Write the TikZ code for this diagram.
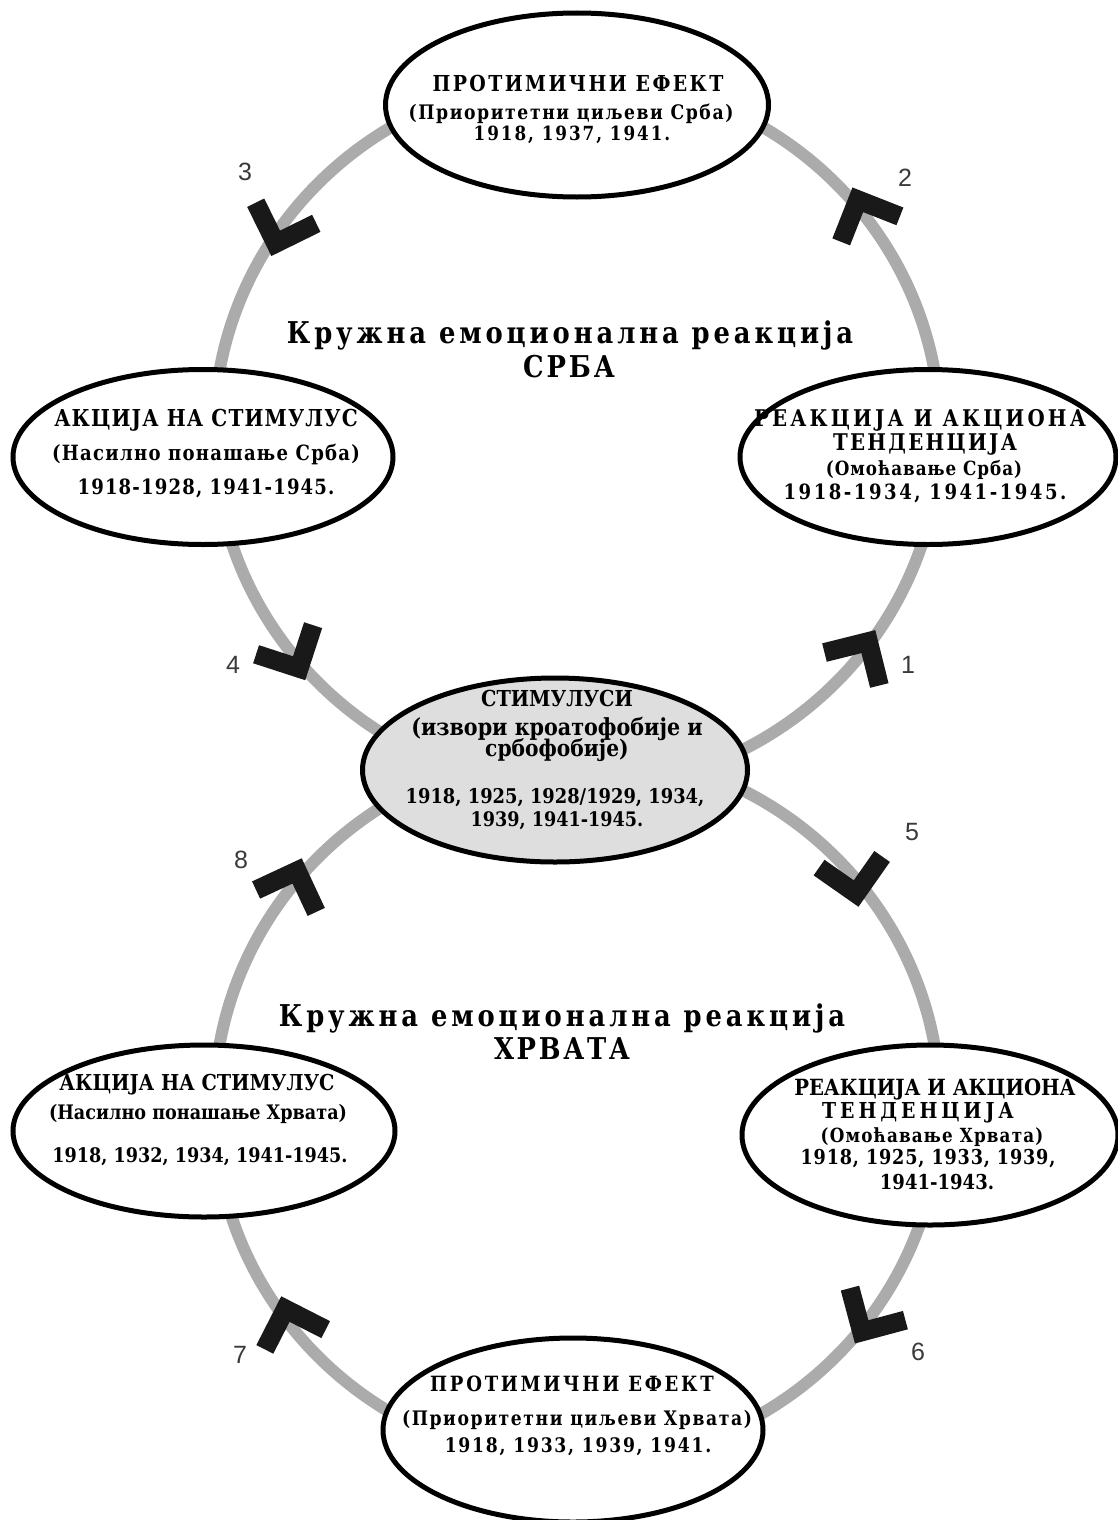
\documentclass[tikz,border=0pt]{standalone}
\usepackage{fontspec}
\setmainfont[FakeStretch=0.88]{DejaVu Serif}
\newfontfamily\spacedfont[FakeStretch=0.86]{DejaVu Serif}
\newfontfamily\numfont{Liberation Sans}
\usetikzlibrary{shapes.geometric,calc}
\definecolor{ringgray}{HTML}{ABABAB}
\definecolor{centerfill}{HTML}{DEDEDE}
\definecolor{numgray}{HTML}{3A3A3A}
\newcommand\chevron[4]{%
  \path (#1) ++(#2:363 and 356) coordinate (#4);
  \begin{scope}[shift={(#4)}, rotate=-#3]
    \draw[chev] (-14,32) -- (18,0) -- (-14,-32);
  \end{scope}}
\begin{document}
\begin{tikzpicture}[x=1pt,y=-1pt,
  ell/.style={draw=black, line width=5pt, ellipse, fill=white, inner sep=0pt},
  ring/.style={draw=ringgray, line width=12pt},
  chev/.style={line width=19pt, draw=black!90, miter limit=10},
  sline/.style 2 args={anchor=base, inner sep=0pt, font=\spacedfont\bfseries\fontsize{#1}{#1}\selectfont\addfontfeature{LetterSpace=#2}},
  uline/.style={anchor=base, inner sep=0pt, font=\bfseries\fontsize{#1}{#1}\selectfont},
  num/.style={font=\numfont\fontsize{25}{25}\selectfont, text=numgray, inner sep=0pt}
]
\fill[white] (0,0) rectangle (1117,1520);
\useasboundingbox (0,0) rectangle (1117,1520);

% rings
\coordinate (c1) at (577,433);
\coordinate (c2) at (577,1107);
\draw[ring] (c1) ellipse[x radius=363, y radius=356];
\draw[ring] (c2) ellipse[x radius=363, y radius=356];

% chevrons
\chevron{c1}{39}{-59}{a1}
\chevron{c1}{-37.5}{-113.5}{a2}
\chevron{c1}{-144.5}{108.8}{a3}
\chevron{c1}{142}{63}{a4}
\chevron{c2}{-40.5}{80}{a5}
\chevron{c2}{36}{120}{a6}
\chevron{c2}{142}{-108}{a7}
\chevron{c2}{-142}{-70}{a8}

% numbers
\node[num] (n1) at (908,665) {1};
\node[num] (n2) at (905,178) {2};
\node[num] (n3) at (245,172) {3};
\node[num] (n4) at (233,665) {4};
\node[num] (n5) at (912,832) {5};
\node[num] (n6) at (918,1352) {6};
\node[num] (n7) at (240,1355) {7};
\node[num] (n8) at (241,860) {8};

% ellipses
\node[ell, minimum width=383pt, minimum height=184pt] (etop) at (577,105) {};
\node[ell, minimum width=380pt, minimum height=175pt] (el1) at (203,457) {};
\node[ell, minimum width=376pt, minimum height=175pt] (er1) at (928,457) {};
\node[ell, minimum width=385pt, minimum height=184pt, fill=centerfill] (ec) at (555,770) {};
\node[ell, minimum width=382pt, minimum height=172pt] (el2) at (204,1131) {};
\node[ell, minimum width=376pt, minimum height=180pt] (er2) at (930,1135) {};
\node[ell, minimum width=380pt, minimum height=184pt] (eb) at (573,1430) {};

% titles
\node[sline={30}{13}] (t1a) at (570,343) {Кружна емоционална реакција};
\node[sline={30}{10}] (t1b) at (569,377) {СРБА};
\node[sline={30}{13}] (t2a) at (562,1026) {Кружна емоционална реакција};
\node[sline={30}{9}] (t2b) at (562,1059) {ХРВАТА};

% top
\node[sline={22}{11}] (ta) at (578,91) {ПРОТИМИЧНИ ЕФЕКТ};
\node[sline={20}{8}] (tb) at (571,119) {(Приоритетни циљеви Срба)};
\node[sline={19.5}{10}] (tc) at (572,140) {1918, 1937, 1941.};

% left 1
\node[sline={23.3}{5}] (l1a) at (206,426) {АКЦИЈА НА СТИМУЛУС};
\node[sline={21}{6}] (l1b) at (206,460) {(Насилно понашање Срба)};
\node[sline={21}{5.5}] (l1c) at (206,494) {1918-1928, 1941-1945.};

% right 1
\node[sline={23}{14}] (r1a) at (920,426) {РЕАКЦИЈА И АКЦИОНА};
\node[sline={23}{10}] (r1b) at (925,450) {ТЕНДЕНЦИЈА};
\node[sline={19.5}{5}] (r1c) at (924,475) {(Омоћавање Срба)};
\node[sline={21}{12}] (r1d) at (925,499) {1918-1934, 1941-1945.};

% center
\node[uline=22] (ca) at (557,706) {СТИМУЛУСИ};
\node[uline=23.5] (cb) at (557,735) {(извори кроатофобије и};
\node[uline=23] (cc) at (557,756) {србофобије)};
\node[uline=20.3] (cd) at (555,803) {1918, 1925, 1928/1929, 1934,};
\node[uline=20] (ce) at (557,826) {1939, 1941-1945.};

% left 2
\node[uline=21.9] (l2a) at (197,1090) {АКЦИЈА НА СТИМУЛУС};
\node[uline=20] (l2b) at (198,1119) {(Насилно понашање Хрвата)};
\node[uline=20] (l2c) at (200,1162) {1918, 1932, 1934, 1941-1945.};

% right 2
\node[uline=22.3] (r2a) at (935,1095) {РЕАКЦИЈА И АКЦИОНА};
\node[sline={22}{18}] (r2b) at (918,1118) {ТЕНДЕНЦИЈА};
\node[sline={19.5}{6}] (r2c) at (932,1142) {(Омоћавање Хрвата)};
\node[sline={20.5}{4}] (r2d) at (928,1164) {1918, 1925, 1933, 1939,};
\node[uline=20.5] (r2e) at (937,1189) {1941-1943.};

% bottom
\node[sline={21}{13}] (ba) at (572,1391) {ПРОТИМИЧНИ ЕФЕКТ};
\node[sline={20}{8}] (bb) at (577,1425) {(Приоритетни циљеви Хрвата)};
\node[sline={20}{8.7}] (bc) at (578,1452) {1918, 1933, 1939, 1941.};
\end{tikzpicture}
\end{document}
